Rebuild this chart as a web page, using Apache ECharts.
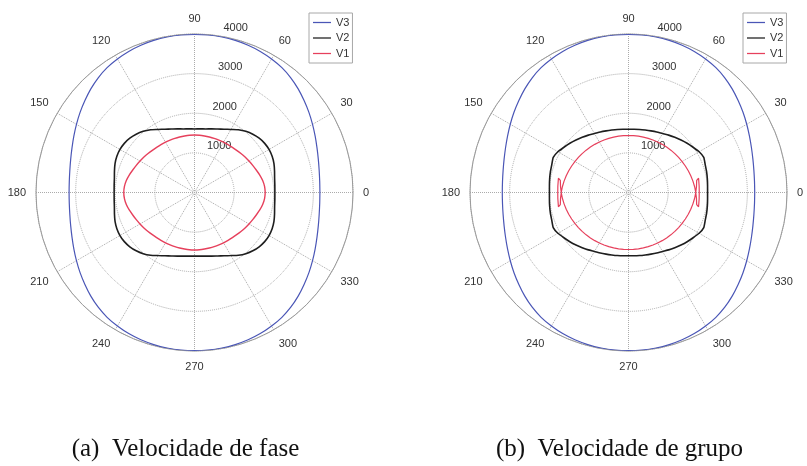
<!DOCTYPE html>
<html>
<head>
<meta charset="utf-8">
<title>Velocidade de fase / grupo</title>
<script src="https://cdn.jsdelivr.net/npm/echarts@6/dist/echarts.min.js"></script>
<style>
  html, body { margin: 0; padding: 0; background: #fff; }
  #chart { width: 807px; height: 466px; }
</style>
</head>
<body>
<div id="chart"></div>
<script>
// sample angles (degrees) for the smooth curves
const angles = [0,5,10,15,20,25,30,35,40,45,50,55,60,65,70,75,80,85,90,95,100,105,110,115,120,125,130,135,140,145,150,155,160,165,170,175,180,185,190,195,200,205,210,215,220,225,230,235,240,245,250,255,260,265,270,275,280,285,290,295,300,305,310,315,320,325,330,335,340,345,350,355,360]

// (a) velocidade de fase
const phaseV3 = [3165,3172,3195,3235,3290,3360,3440,3525,3610,3700,3780,3845,3890,3928,3955,3973,3985,3990,3992,
  3990,3985,3973,3955,3928,3890,3845,3780,3700,3610,3525,3440,3360,3290,3235,3195,3172,3165,
  3172,3195,3235,3290,3360,3440,3525,3610,3700,3780,3845,3890,3928,3955,3973,3985,3990,3992,
  3990,3985,3973,3955,3928,3890,3845,3780,3700,3610,3525,3440,3360,3290,3235,3195,3172,3165]
const phaseV2 = [2028,2035,2053,2091,2134,2162,2172,2162,2131,2081,2015,1932,1838,1763,1705,1662,1629,1611,1604,
  1611,1629,1662,1705,1763,1838,1932,2015,2081,2131,2162,2172,2162,2134,2091,2053,2035,2028,
  2035,2053,2091,2134,2162,2172,2162,2131,2081,2015,1932,1838,1763,1705,1662,1629,1611,1604,
  1611,1629,1662,1705,1763,1838,1932,2015,2081,2131,2162,2172,2162,2134,2091,2053,2035,2028]
const phaseV1 = [1785,1775,1747,1705,1659,1621,1588,1558,1530,1505,1487,1475,1465,1457,1452,1449,1449,1452,1452,
  1452,1449,1449,1452,1457,1465,1475,1487,1505,1530,1558,1588,1621,1659,1705,1747,1775,1785,
  1775,1747,1705,1659,1621,1588,1558,1530,1505,1487,1475,1465,1457,1452,1449,1449,1452,1452,
  1452,1449,1449,1452,1457,1465,1475,1487,1505,1530,1558,1588,1621,1659,1705,1747,1775,1785]

// (b) velocidade de grupo
const groupV3 = [3185,3192,3213,3250,3302,3368,3445,3528,3612,3700,3780,3845,3890,3928,3955,3973,3985,3990,3992,
  3990,3985,3973,3955,3928,3890,3845,3780,3700,3612,3528,3445,3368,3302,3250,3213,3192,3185,
  3192,3213,3250,3302,3368,3445,3528,3612,3700,3780,3845,3890,3928,3955,3973,3985,3990,3992,
  3990,3985,3973,3955,3928,3890,3845,3780,3700,3612,3528,3445,3368,3302,3250,3213,3192,3185]
const groupV2 = [1995,2003,2020,2040,2060,2096,2058,1990,1932,1874,1818,1768,1717,1684,1654,1631,1616,1604,1598,
  1604,1616,1631,1654,1684,1717,1768,1818,1874,1932,1990,2058,2096,2060,2040,2020,2003,1995,
  2003,2020,2040,2060,2096,2058,1990,1932,1874,1818,1768,1717,1684,1654,1631,1616,1604,1598,
  1604,1616,1631,1654,1684,1717,1768,1818,1874,1932,1990,2058,2096,2060,2040,2020,2003,1995]
// V1 de grupo tem cúspides: pontos na ordem do traçado
const groupV1Radius = [1439,1440,1443,1448,1454,1462,1471,1483,1496,1511,1527,1544,1563,1583,1605,1627,1651,1675,1697,1722,1747,1805,
  1790,1785,1790,1805,
  1747,1722,1697,1675,1651,1627,1605,1583,1563,1544,1527,1511,1496,1483,1471,1462,1454,1448,1443,1440,1439,
  1440,1443,1448,1454,1462,1471,1483,1496,1511,1527,1544,1563,1583,1605,1627,1651,1675,1697,1722,1747,1805,
  1790,1785,1790,1805,
  1747,1722,1697,1675,1651,1627,1605,1583,1563,1544,1527,1511,1496,1483,1471,1462,1454,1448,1443,1440,1439]
const groupV1Angle = [90,85,80,75,70,65,60,55,50,45,40,35,30,25,20,15,10,5,0,355,350,348.5,
  355,0,5,11.5,
  10,5,0,355,350,345,340,335,330,325,320,315,310,305,300,295,290,285,280,275,270,
  265,260,255,250,245,240,235,230,225,220,215,210,205,200,195,190,185,180,175,170,168.5,
  175,180,185,191.5,
  190,185,180,175,170,165,160,155,150,145,140,135,130,125,120,115,110,105,100,95,90]

const seriesNames = ['V3', 'V2', 'V1']
const captions = ['(a)  Velocidade de fase', '(b)  Velocidade de grupo']

const FONT = 'Liberation Sans, Arial, sans-serif'
const COLORS = { V3: '#4a56b6', V2: '#1e1e1e', V1: '#e6405c' }
const centers = [[194.5, 192.5], [628.5, 192.5]]
const R = 158.5

const chart = echarts.init(document.getElementById('chart'))

function sampled(values) {
  return values.map((v, i) => [v, angles[i]])
}

const polar = []
const angleAxis = []
const radiusAxis = []
centers.forEach(c => {
  // grade e rótulos angulares
  polar.push({ center: c, radius: R })
  // só para os rótulos radiais (a ~82 graus)
  polar.push({ center: c, radius: R })
})

for (let k = 0; k < 2; k++) {
  const main = k * 2
  angleAxis.push({
    polarIndex: main,
    type: 'value', min: 0, max: 360, interval: 30,
    startAngle: 0, clockwise: false,
    axisLine: { lineStyle: { color: '#9a9a9a', width: 1 } },
    axisTick: { show: false },
    axisLabel: {
      margin: 10, color: '#333', fontSize: 11, fontFamily: FONT,
      formatter: v => (v === 360 ? '' : String(v)),
    },
    splitLine: { lineStyle: { color: '#ababab', type: 'dotted', width: 1 } },
  })
  radiusAxis.push({
    polarIndex: main,
    type: 'value', min: 0, max: 4000, interval: 1000,
    axisLine: { show: false },
    axisTick: { show: false },
    axisLabel: { show: false },
    splitLine: { lineStyle: { color: '#ababab', type: 'dotted', width: 1 } },
  })
  angleAxis.push({
    polarIndex: main + 1,
    type: 'value', min: 0, max: 360,
    startAngle: 82, clockwise: false,
    show: false,
  })
  radiusAxis.push({
    polarIndex: main + 1,
    type: 'value', min: 0, max: 4000, interval: 1000,
    axisLine: { show: false },
    axisTick: { show: false },
    splitLine: { show: false },
    axisLabel: {
      margin: -7, align: 'left', verticalAlign: 'bottom', padding: [0, 0, 3, 0],
      color: '#333', fontSize: 11, fontFamily: FONT,
      formatter: v => (v === 0 ? '' : String(v)),
    },
  })
}

function line(name, polarIndex, data, width, smooth) {
  return {
    name, type: 'line', coordinateSystem: 'polar', polarIndex,
    data, symbol: 'none', smooth,
    lineStyle: { color: COLORS[name], width },
    itemStyle: { color: COLORS[name] },
    z: 3,
  }
}

const legendBase = {
  orient: 'vertical', top: 13,
  data: seriesNames,
  // traço fino, sem marcador
  icon: 'path://M0,0H20V1.4H0Z',
  itemWidth: 18, itemHeight: 12, itemGap: 4.5,
  padding: [4, 3, 4, 4],
  borderColor: '#a8a8a8', borderWidth: 1, borderRadius: 0,
  backgroundColor: '#fff',
  selectedMode: false,
  textStyle: { fontSize: 11, color: '#333', fontFamily: FONT },
}

chart.setOption({
  animation: false,
  backgroundColor: '#fff',
  title: captions.map((t, i) => ({
    text: t,
    left: centers[i][0] - 9, top: 437, textAlign: 'center', padding: 0,
    textStyle: { fontFamily: 'Liberation Serif, Times New Roman, serif', fontSize: 25, fontWeight: 'normal', color: '#111' },
  })),
  legend: [
    Object.assign({ left: 309 }, legendBase),
    Object.assign({ left: 743 }, legendBase),
  ],
  polar, angleAxis, radiusAxis,
  series: [
    line('V3', 0, sampled(phaseV3), 1.2, 0.3),
    line('V2', 0, sampled(phaseV2), 1.6, 0.3),
    line('V1', 0, sampled(phaseV1), 1.4, 0.3),
    line('V3', 2, sampled(groupV3), 1.2, 0.3),
    line('V2', 2, sampled(groupV2), 1.6, 0.15),
    line('V1', 2, groupV1Radius.map((r, i) => [r, groupV1Angle[i]]), 1.2, false),
  ],
})
</script>
</body>
</html>
